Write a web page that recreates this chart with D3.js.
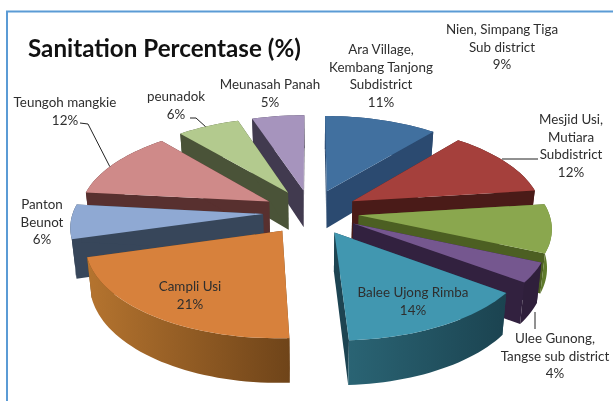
<!DOCTYPE html>
<html>
<head>
<meta charset="utf-8">
<script src="https://cdn.jsdelivr.net/npm/d3@7"></script>
<style>
  html, body { margin: 0; padding: 0; background: #fff; }
  svg { display: block; }
  text { font-family: Lato, "Open Sans", sans-serif; }
</style>
</head>
<body>
<div id="chart"></div>
<script>
// values, clockwise from 12 o'clock
const names = ['Ara Village', 'Mesjid Usi', 'Nien', 'Ulee Gunong', 'Balee Ujong Rimba',
  'Campli Usi', 'Panton Beunot', 'Teungoh mangkie', 'peunadok', 'Meunasah Panah'];
const values = [11, 12, 8.6, 3.5, 14.1, 21.4, 6.1, 12.1, 6.1, 5.1];
const labelLines = [
  ['Ara Village,', 'Kembang Tanjong', 'Subdistrict', '11%'],
  ['Mesjid Usi,', 'Mutiara', 'Subdistrict', '12%'],
  ['Nien, Simpang Tiga', 'Sub district', '9%'],
  ['Ulee Gunong,', 'Tangse sub district', '4%'],
  ['Balee Ujong Rimba', '14%'],
  ['Campli Usi', '21%'],
  ['Panton', 'Beunot', '6%'],
  ['Teungoh mangkie', '12%'],
  ['peunadok', '6%'],
  ['Meunasah Panah', '5%']
];
const topColors = ['#41709f', '#a5403c', '#8aa74e', '#75578f', '#4197b0', '#d7813c', '#8fa9d3', '#cf8a89', '#b3ca8e', '#a694bd'];
const sideColors = ['#2b4a70', '#4a1b18', '#4c5f22', '#32213f', '#1d4452', '#6f4419', '#37465a', '#58302f', '#4a5338', '#413a4f'];
const rimLight = ['#2b4a70', '#4a1b18', '#5f7a2c', '#2f1f3b', '#2a6474', '#b5742f', '#37465a', '#58302f', '#4a5338', '#413a4f'];
const rimDark = ['#2b4a70', '#4a1b18', '#5f7a2c', '#2f1f3b', '#1b4350', '#6f4419', '#37465a', '#58302f', '#4a5338', '#413a4f'];

// label placement: centre x, y of first line, line step
const labelX = [381, 571, 502, 555, 413, 190, 42, 65, 176, 270];
const labelY = [54, 124, 34, 343, 297, 291, 209, 107, 101, 89];
const lineStep = 17.6;

const width = 613, height = 401;
const cx = 311, cy = 212;
const R = 190, explode = 48, depth = 38;
const D = 1551, squash = 0.47; // perspective distance and tilt

const svg = d3.select('#chart').append('svg')
  .attr('width', width).attr('height', height)
  .style('filter', 'blur(0.4px)');
const defs = svg.append('defs');

// blue picture frame
svg.append('path')
  .attr('d', `M7,${height} V11.5 H${width}`)
  .attr('fill', 'none').attr('stroke', '#5b9bd5').attr('stroke-width', 2);

svg.append('text').attr('x', 28).attr('y', 57)
  .attr('font-size', 24.2).attr('font-weight', 700).attr('fill', '#111')
  .text('Sanitation Percentase (%)');

// plane coordinates to screen, v grows toward the viewer, z = 1 is the bottom of the slab
function project(u, v, z) {
  const s = D / (D - v);
  const narrow = z ? 0.98 : 1;
  return [cx + u * s * narrow, cy + squash * v * s + (z ? depth * s : 0)];
}

const arcs = d3.pie().sort(null).value(d => d)(values);
const line = d3.line();

const slices = arcs.map((a, i) => {
  const mid = (a.startAngle + a.endAngle) / 2;
  const ax = explode * Math.sin(mid), ay = -explode * Math.cos(mid);
  const n = Math.max(6, Math.round((a.endAngle - a.startAngle) * 30));
  const rim = d3.range(n + 1).map(j => {
    const t = a.startAngle + (a.endAngle - a.startAngle) * j / n;
    return [ax + R * Math.sin(t), ay - R * Math.cos(t)];
  });
  return { i, mid, ax, ay, rim };
});

function drawSlice(g, sl) {
  const i = sl.i;
  const apexTop = project(sl.ax, sl.ay, 0);
  const apexBot = project(sl.ax, sl.ay, 1);
  const rimTop = sl.rim.map(p => project(p[0], p[1], 0));
  const rimBot = sl.rim.map(p => project(p[0], p[1], 1));
  const last = rimTop.length - 1;

  const gradId = 'side' + i;
  const grad = defs.append('linearGradient').attr('id', gradId);
  grad.append('stop').attr('offset', '0%').attr('stop-color', rimLight[i]);
  grad.append('stop').attr('offset', '100%').attr('stop-color', rimDark[i]);

  const outer = () => g.append('path')
    .attr('d', line(rimTop.concat(rimBot.slice().reverse())) + 'Z')
    .attr('fill', `url(#${gradId})`);

  const back = Math.cos(sl.mid) > 0;
  if (back) outer();
  [[rimTop[0], rimBot[0]], [rimTop[last], rimBot[last]]].forEach(e => {
    g.append('path')
      .attr('d', line([apexTop, e[0], e[1], apexBot]) + 'Z')
      .attr('fill', sideColors[i]);
  });
  if (!back) outer();
  g.append('path')
    .attr('d', line([apexTop].concat(rimTop)) + 'Z')
    .attr('fill', topColors[i]);
}

// painter's order, far slices first
const pieG = svg.append('g');
slices.slice().sort((p, q) => Math.cos(q.mid) - Math.cos(p.mid))
  .forEach(sl => drawSlice(pieG.append('g').attr('class', 'slice'), sl));

// leader lines: label end, elbow, then a point on the slice rim
function rimPoint(i, frac, z) {
  const sl = slices[i];
  const p = sl.rim[Math.round(frac * (sl.rim.length - 1))];
  return project(p[0], p[1], z);
}
const leaders = [
  [[80, 123], [88, 124], rimPoint(7, 0.42, 0)],
  [[190, 118], [196, 118], rimPoint(8, 0.45, 0)],
  [[538, 159], [502, 159]],
  [[535, 329], [535, 312]]
];
svg.selectAll('path.leader').data(leaders).join('path')
  .attr('class', 'leader')
  .attr('d', d => line(d))
  .attr('fill', 'none').attr('stroke', '#222').attr('stroke-width', 1);

// labels
labelLines.forEach((lines, i) => {
  const t = svg.append('text')
    .attr('text-anchor', 'middle').attr('font-size', 13.4)
    .attr('fill', '#2e2e2e');
  lines.forEach((s, j) => {
    t.append('tspan').attr('x', labelX[i]).attr('y', labelY[i] + j * lineStep).text(s);
  });
});
</script>
</body>
</html>
